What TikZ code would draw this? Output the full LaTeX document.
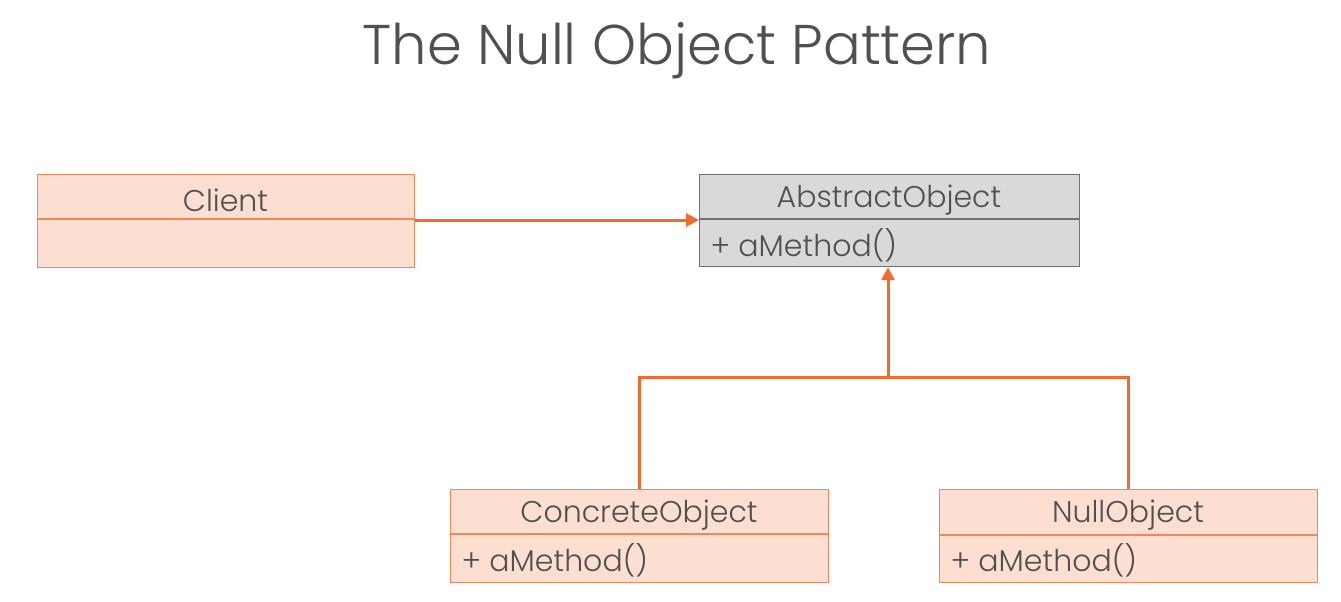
\documentclass[tikz,border=0pt]{standalone}
\usepackage{fontspec}
\setmainfont{Poppins}
\newfontfamily\lightfont{Poppins Light}
\usetikzlibrary{arrows.meta}
\definecolor{ofill}{HTML}{FDDFD2}
\definecolor{oline}{HTML}{F0865A}
\definecolor{gfill}{HTML}{D9D9DB}
\definecolor{gline}{HTML}{707070}
\definecolor{arr}{HTML}{F26A2E}
\definecolor{txt}{HTML}{505050}
\begin{document}
\begin{tikzpicture}[x=1pt,y=-1pt,
  obox/.style={draw=oline,fill=ofill,line width=1.2pt,rectangle,anchor=north west,inner sep=0pt},
  gbox/.style={draw=gline,fill=gfill,line width=1.2pt,rectangle,anchor=north west,inner sep=0pt},
  cname/.style={text=txt,font=\lightfont\fontsize{30}{33}\selectfont,anchor=center},
  meth/.style={text=txt,font=\lightfont\fontsize{30}{33}\selectfont,anchor=west},
  conn/.style={draw=arr,line width=3pt},
  tip/.style={-{Triangle[length=13pt,width=13pt]}}
]
\useasboundingbox (0,0) rectangle (1341,602);
\node[text=txt,font=\lightfont\fontsize{56}{60}\selectfont] (title) at (677,51) {The Null Object Pattern};
% Client
\node[obox,minimum width=377pt,minimum height=93pt] (client) at (37,174) {};
\draw[oline,line width=1.2pt] (37,219) -- (414,219);
\node[cname] (clientn) at (225.5,200) {Client};
% Abstract
\node[gbox,minimum width=380pt,minimum height=92pt] (abs) at (699,174) {};
\draw[gline,line width=1.2pt] (699,219) -- (1079,219);
\node[cname] (absn) at (889,200) {AbstractObject};
\node[meth] (absm) at (707,245) {+ aMethod()};
% Concrete
\node[obox,minimum width=378pt,minimum height=93pt] (conc) at (450,489) {};
\draw[oline,line width=1.2pt] (450,534) -- (828,534);
\node[cname] (concn) at (639,515) {ConcreteObject};
\node[meth] (concm) at (458,560) {+ aMethod()};
% Null
\node[obox,minimum width=378pt,minimum height=93pt] (null) at (939,489) {};
\draw[oline,line width=1.2pt] (939,535) -- (1317,535);
\node[cname] (nulln) at (1128,515) {NullObject};
\node[meth] (nullm) at (947,560) {+ aMethod()};
% connectors
\coordinate (cj) at (888,377);
\draw[conn,tip] (client.east |- 0,220) -- (abs.west |- 0,220);
\draw[conn,tip] (cj) -- (cj |- abs.south);
\draw[conn] (conc.north -| 639,0) |- (cj) -| (null.north -| 1128,0);
\end{tikzpicture}
\end{document}
